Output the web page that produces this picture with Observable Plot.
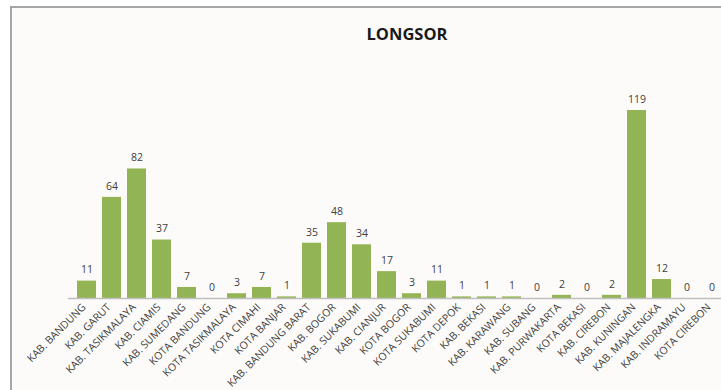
<!DOCTYPE html>
<html>
<head>
<meta charset="utf-8">
<script src="https://cdn.jsdelivr.net/npm/d3@7"></script>
<script src="https://cdn.jsdelivr.net/npm/@observablehq/plot@0.6"></script>
<style>
  html, body { margin: 0; padding: 0; background: #ffffff; }
  #wrap { position: relative; width: 721px; height: 390px; overflow: hidden; }
  #frame { position: absolute; left: 10px; top: 6px; width: 760px; height: 420px;
           border-left: 2px solid #a6a6a6; border-top: 2px solid #a6a6a6; background: #fcfbf9; }
  #chart { position: absolute; left: 0; top: 0; }
</style>
</head>
<body>
<div id="wrap"><div id="frame"></div><div id="chart"></div></div>
<script>
const categories = ["KAB. BANDUNG","KAB. GARUT","KAB. TASIKMALAYA","KAB. CIAMIS","KAB. SUMEDANG","KOTA BANDUNG","KOTA TASIKMALAYA","KOTA CIMAHI","KOTA BANJAR","KAB. BANDUNG BARAT","KAB. BOGOR","KAB. SUKABUMI","KAB. CIANJUR","KOTA BOGOR","KOTA SUKABUMI","KOTA DEPOK","KAB. BEKASI","KAB. KARAWANG","KAB. SUBANG","KAB. PURWAKARTA","KOTA BEKASI","KAB. CIREBON","KAB. KUNINGAN","KAB. MAJALENGKA","KAB. INDRAMAYU","KOTA CIREBON"];
const values = [11,64,82,37,7,0,3,7,1,35,48,34,17,3,11,1,1,1,0,2,0,2,119,12,0,0];
const title = "LONGSOR";

const data = categories.map((c, i) => ({category: c, value: values[i]}));
const font = "'Open Sans', 'DejaVu Sans', sans-serif";

const chart = Plot.plot({
  width: 721,
  height: 390,
  marginLeft: 68,
  marginRight: 0,
  marginTop: 0,
  marginBottom: 92,
  style: {background: "transparent", fontFamily: font},
  x: {type: "band", domain: categories, range: [74, 724], paddingInner: 0.24, paddingOuter: 0.12, align: 0.5},
  y: {domain: [0, 119], range: [298, 110], axis: null},
  marks: [
    Plot.barY(data, {x: "category", y: "value", fill: "#93b454"}),
    Plot.ruleY([0], {stroke: "#bfbfbf", strokeWidth: 1.5}),
    Plot.text(data, {x: "category", y: "value", text: d => String(d.value), dy: -11, fontSize: 10.5, fill: "#404040"}),
    Plot.axisX({tickSize: 0, tickRotate: -45, tickPadding: 7, dx: -3, fontSize: 10.5, fill: "#404040", label: null, textAnchor: "end"}),
    Plot.text([title], {frameAnchor: "top", x: null, text: d => d, dy: 28, dx: 12, fontSize: 16.5, fontWeight: "bold", fill: "#1a1a1a", fontFamily: font})
  ]
});
document.getElementById("chart").appendChild(chart);
</script>
</body>
</html>
